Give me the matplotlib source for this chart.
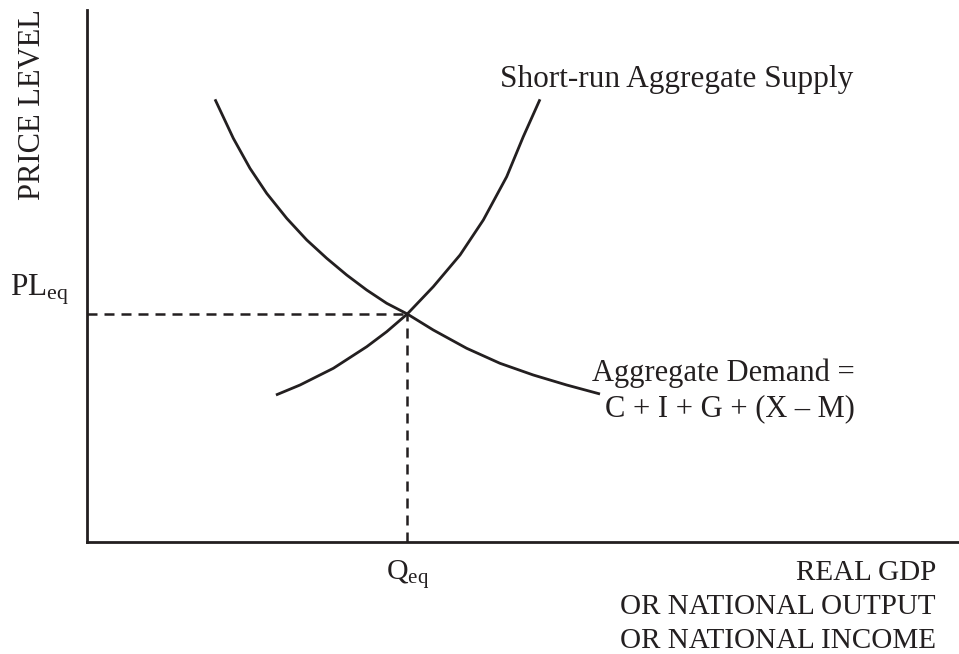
import matplotlib
matplotlib.use("Agg")
import matplotlib.pyplot as plt

plt.rcParams['font.family'] = ['Liberation Serif', 'DejaVu Serif']
plt.rcParams['mathtext.fontset'] = 'custom'
plt.rcParams['mathtext.rm'] = 'Liberation Serif'
plt.rcParams['mathtext.it'] = 'Liberation Serif:italic'

# aggregate demand curve (real GDP, price level)
ad_x = [14.68, 16.78, 18.69, 20.61, 22.91, 25.20, 27.49, 29.78, 32.07, 34.37,
        36.73, 39.71, 43.54, 47.36, 51.18, 55.01, 58.83]
ad_y = [83.21, 75.88, 70.24, 65.53, 60.83, 56.77, 53.33, 50.19, 47.37, 44.87,
        42.86, 39.85, 36.41, 33.59, 31.39, 29.51, 27.82]

# short-run aggregate supply curve
sras_x = [21.67, 24.43, 28.25, 32.08, 34.37, 36.73, 39.71, 42.78, 45.45, 48.13,
          50.03, 51.95]
sras_y = [27.63, 29.51, 32.65, 36.71, 39.53, 42.86, 47.99, 53.95, 60.53, 68.67,
          76.18, 83.21]

# equilibrium
q_eq = 36.73
pl_eq = 42.86

W, H = 959, 654
fig = plt.figure(figsize=(W / 100, H / 100), dpi=100)
ax = fig.add_axes([87 / W, (H - 542) / H, (W - 87) / W, (542 - 10) / H])
ax.set_xlim(0, 100)
ax.set_ylim(0, 100)
ax.patch.set_alpha(0)

lc = '#231f20'
for s in ['top', 'right']:
    ax.spines[s].set_visible(False)
for s in ['left', 'bottom']:
    ax.spines[s].set_linewidth(2.0)
    ax.spines[s].set_color(lc)
ax.set_xticks([])
ax.set_yticks([])

ax.plot(ad_x, ad_y, color=lc, lw=2.0, solid_capstyle='butt', solid_joinstyle='round')
ax.plot(sras_x, sras_y, color=lc, lw=2.0, solid_capstyle='butt', solid_joinstyle='round')

ax.plot([0, q_eq], [pl_eq, pl_eq], color=lc, lw=1.8, dashes=(4, 2.8))
ax.plot([q_eq, q_eq], [0, pl_eq], color=lc, lw=1.8, dashes=(4, 2.8))

fig.text(33 / W, 1 - 105 / H, 'PRICE LEVEL', rotation=90, ha='center', va='center',
         fontsize=22, color=lc)
fig.text(10 / W, 1 - 290 / H, r'PL$_{\rm eq}$', ha='left', va='center', fontsize=22.5,
         color=lc)
ax.text(q_eq, -3.0, r'Q$_{\rm eq}$', ha='center', va='top', fontsize=21.5, color=lc)

fig.text(500 / W, 1 - 79 / H, 'Short-run Aggregate Supply', ha='left', va='center',
         fontsize=22.5, color=lc)
fig.text(855 / W, 1 - 391 / H, 'Aggregate Demand =\nC + I + G + (X \u2013 M)', ha='right',
         va='center', multialignment='right', fontsize=22, color=lc, linespacing=1.25)
fig.text(936 / W, 1 - 607 / H, 'REAL GDP\nOR NATIONAL OUTPUT\nOR NATIONAL INCOME',
         ha='right', va='center', multialignment='right', fontsize=21, color=lc,
         linespacing=1.38)

fig.savefig('out.png', dpi=100)
